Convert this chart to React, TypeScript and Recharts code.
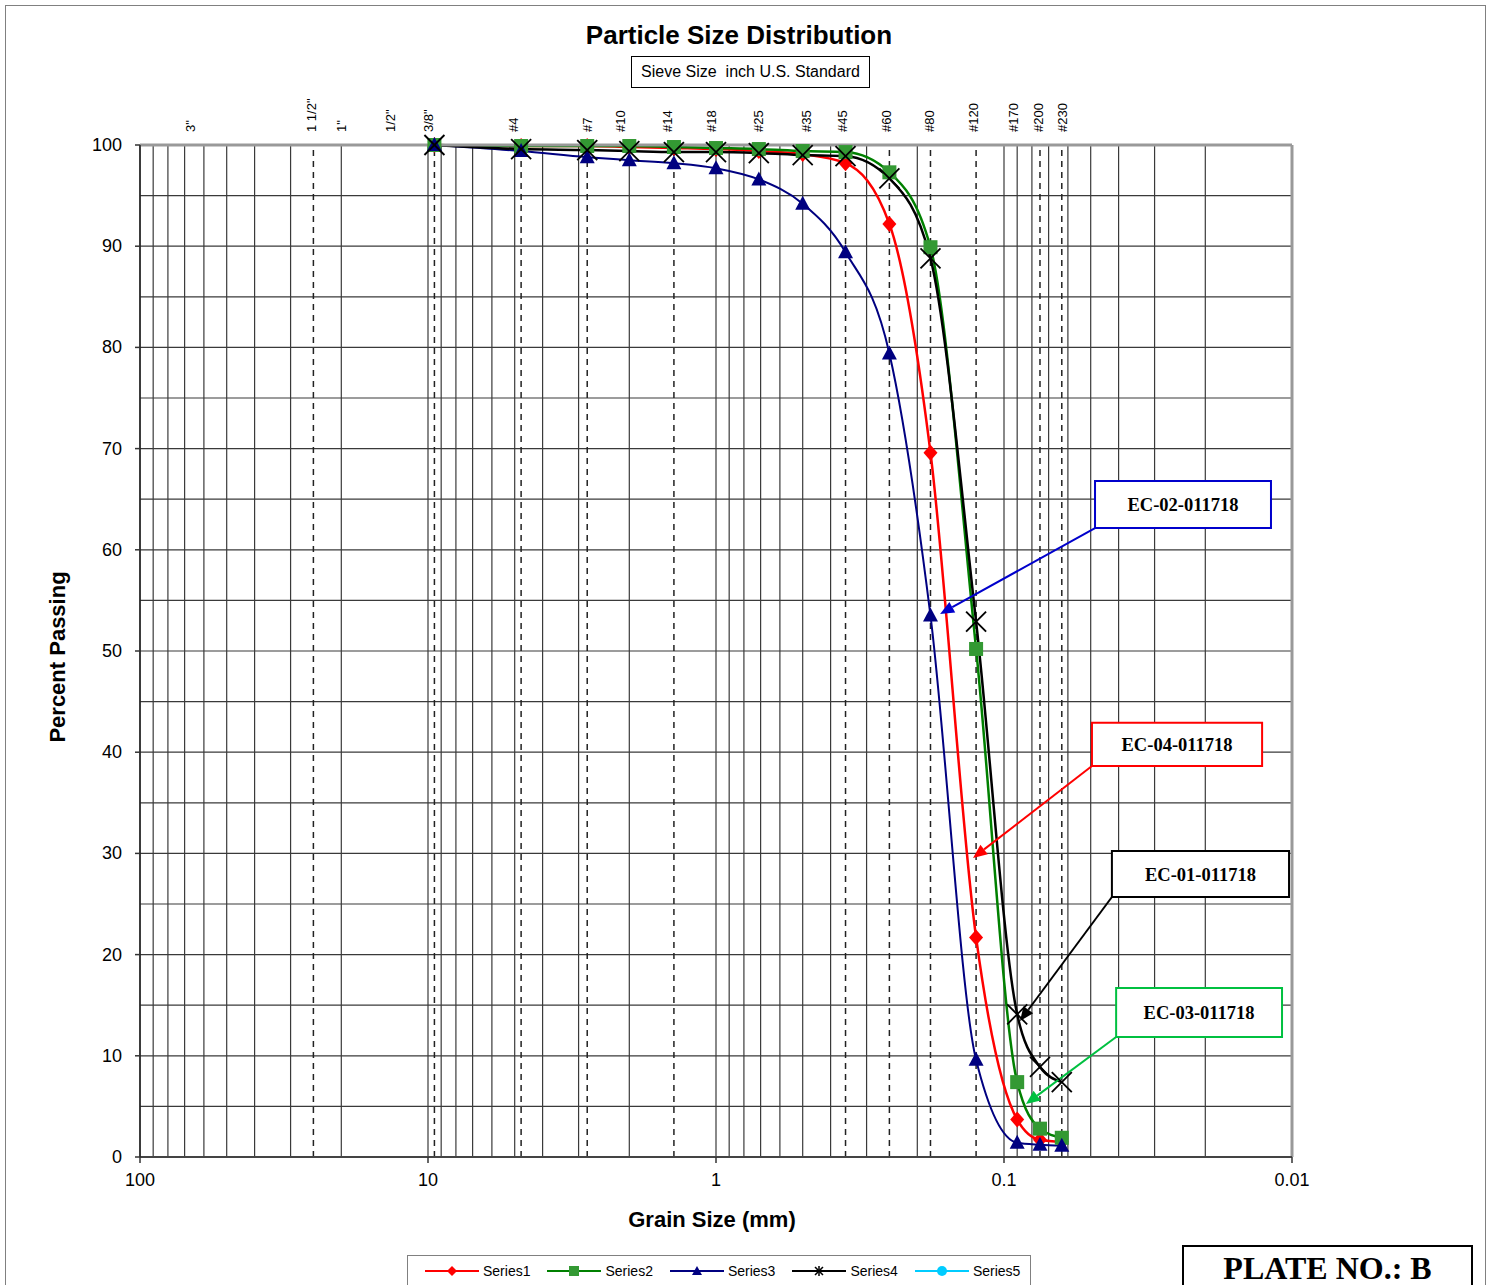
import React from "react";
import {
  LineChart,
  Line,
  XAxis,
  YAxis,
  CartesianGrid,
  ReferenceLine,
  ReferenceArea,
} from "recharts";

// sieve openings (mm) where every sample was measured
const sieveSizes = [9.5, 4.75, 2.8, 2.0, 1.4, 1.0, 0.71, 0.5, 0.355, 0.25, 0.18, 0.125, 0.09, 0.075, 0.063];

// percent passing
const series1 = [100, 99.9, 99.9, 99.8, 99.7, 99.6, 99.4, 99.1, 98.2, 92.2, 69.6, 21.7, 3.7, 1.7, 1.5];
const series2 = [100, 99.9, 99.9, 99.9, 99.8, 99.7, 99.6, 99.4, 99.3, 97.3, 89.9, 50.2, 7.4, 2.8, 1.9];
const series3 = [100, 99.4, 98.8, 98.5, 98.2, 97.7, 96.6, 94.2, 89.4, 79.4, 53.5, 9.6, 1.4, 1.2, 1.1];
const series4 = [100, 99.6, 99.5, 99.4, 99.3, 99.3, 99.2, 99.0, 98.9, 96.7, 88.8, 52.9, 14.1, 8.9, 7.4];

const decades = [100, 10, 1, 0.1, 0.01];
const yTicks = [0, 5, 10, 15, 20, 25, 30, 35, 40, 45, 50, 55, 60, 65, 70, 75, 80, 85, 90, 95, 100];
const yLabels = [0, 10, 20, 30, 40, 50, 60, 70, 80, 90, 100];

// top labels and where they sit on the size axis
const sieveLabels = [
  { label: '3"', at: 67 },
  { label: '1 1/2"', at: 25.3 },
  { label: '1"', at: 20 },
  { label: '1/2"', at: 13.5 },
  { label: '3/8"', at: 10 },
  { label: "#4", at: 5.03 },
  { label: "#7", at: 2.8 },
  { label: "#10", at: 2.14 },
  { label: "#14", at: 1.47 },
  { label: "#18", at: 1.04 },
  { label: "#25", at: 0.715 },
  { label: "#35", at: 0.487 },
  { label: "#45", at: 0.365 },
  { label: "#60", at: 0.255 },
  { label: "#80", at: 0.182 },
  { label: "#120", at: 0.128 },
  { label: "#170", at: 0.093 },
  { label: "#200", at: 0.0762 },
  { label: "#230", at: 0.0629 },
];
const sieveLines = [25, 9.5, 4.75, 2.8, 1.4, 0.355, 0.25, 0.18, 0.125, 0.075, 0.063];

const callouts = [
  { text: "EC-02-011718", color: "#0000CC", x1: 0.0483, x2: 0.01183, y1: 66.8, y2: 62.15, from: [0.0483, 62.15], to: [0.1667, 53.66] },
  { text: "EC-04-011718", color: "#FF0000", x1: 0.0495, x2: 0.0127, y1: 42.9, y2: 38.64, from: [0.0495, 38.64], to: [0.1281, 29.55] },
  { text: "EC-01-011718", color: "#000000", x1: 0.0422, x2: 0.01024, y1: 30.24, y2: 25.69, from: [0.0422, 25.69], to: [0.088, 13.44] },
  { text: "EC-03-011718", color: "#00C040", x1: 0.0408, x2: 0.01083, y1: 16.7, y2: 11.86, from: [0.0408, 11.86], to: [0.0839, 5.24] },
];

const rows = sieveSizes.map((size, i) => ({
  size,
  s1: series1[i],
  s2: series2[i],
  s3: series3[i],
  s4: series4[i],
}));

// every log-cycle subdivision gets a grid line
const gridX = [0.01, 0.1, 1, 10]
  .flatMap((d) => [1, 2, 3, 4, 5, 6, 7, 8, 9].map((k) => Number((d * k).toPrecision(6))))
  .concat([100]);

const SANS = "'Liberation Sans', Arial, sans-serif";
const SERIF = "'Liberation Serif', 'Times New Roman', serif";
const PLOT_LEFT = 140;
const PLOT_TOP = 145;
const PLOT_BOTTOM = 1157;

const Diamond = (p: any) =>
  p.cx == null || p.value == null ? <g key={p.index} /> : (
    <polygon key={p.index} points={`${p.cx},${p.cy - 8} ${p.cx + 7},${p.cy} ${p.cx},${p.cy + 8} ${p.cx - 7},${p.cy}`} fill="#FF0000" />
  );
const Square = (p: any) =>
  p.cx == null || p.value == null ? <g key={p.index} /> : (
    <rect key={p.index} x={p.cx - 7} y={p.cy - 7} width={14} height={14} fill="#339933" />
  );
const Triangle = (p: any) =>
  p.cx == null || p.value == null ? <g key={p.index} /> : (
    <polygon key={p.index} points={`${p.cx},${p.cy - 8} ${p.cx + 7.5},${p.cy + 6} ${p.cx - 7.5},${p.cy + 6}`} fill="#000080" />
  );
const Cross = (p: any) =>
  p.cx == null || p.value == null ? <g key={p.index} /> : (
    <g key={p.index} stroke="#000" strokeWidth={1.8}>
      <line x1={p.cx - 10} y1={p.cy - 10} x2={p.cx + 10} y2={p.cy + 10} />
      <line x1={p.cx - 10} y1={p.cy + 10} x2={p.cx + 10} y2={p.cy - 10} />
    </g>
  );

const BottomTick = (p: any) => {
  const v = p.payload?.value;
  if (!decades.includes(v)) return <g />;
  return (
    <g>
      <line x1={p.x} x2={p.x} y1={PLOT_BOTTOM} y2={PLOT_BOTTOM + 6} stroke="#333" strokeWidth={1.5} />
      <text x={p.x} y={PLOT_BOTTOM + 29} textAnchor="middle" fontSize={18} fontFamily={SANS} fill="#000">
        {String(v)}
      </text>
    </g>
  );
};

const LeftTick = (p: any) => {
  const v = p.payload?.value;
  if (!yLabels.includes(v)) return <g />;
  return (
    <g>
      <line x1={PLOT_LEFT - 5} x2={PLOT_LEFT} y1={p.y} y2={p.y} stroke="#333" strokeWidth={1.5} />
      <text x={PLOT_LEFT - 18} y={p.y + 6} textAnchor="end" fontSize={18} fontFamily={SANS} fill="#000">
        {v}
      </text>
    </g>
  );
};

const TopTick = (p: any) => {
  const item = sieveLabels.find((s) => s.at === p.payload?.value);
  if (!item) return <g />;
  const y = PLOT_TOP - 13;
  return (
    <text
      x={p.x}
      y={y}
      dy="0.35em"
      transform={`rotate(-90 ${p.x} ${y})`}
      textAnchor="start"
      fontSize={13}
      fontFamily={SANS}
      fill="#000"
    >
      {item.label}
    </text>
  );
};

const arrow = (color: string) => (p: any) => {
  const { x1, y1, x2, y2 } = p;
  if ([x1, y1, x2, y2].some((v) => v == null || isNaN(v))) return <g />;
  const ang = Math.atan2(y2 - y1, x2 - x1);
  const len = 14;
  const w = 6;
  const bx = x2 - len * Math.cos(ang);
  const by = y2 - len * Math.sin(ang);
  const px = -Math.sin(ang) * w;
  const py = Math.cos(ang) * w;
  return (
    <g>
      <line x1={x1} y1={y1} x2={bx} y2={by} stroke={color} strokeWidth={2} />
      <polygon points={`${x2},${y2} ${bx + px},${by + py} ${bx - px},${by - py}`} fill={color} />
    </g>
  );
};

const legendItems = [
  { name: "Series1", color: "#FF0000", marker: "diamond" },
  { name: "Series2", color: "#008000", marker: "square" },
  { name: "Series3", color: "#000080", marker: "triangle" },
  { name: "Series4", color: "#000000", marker: "star" },
  { name: "Series5", color: "#00CCFF", marker: "circle" },
];

const LegendIcon = ({ color, marker }: { color: string; marker: string }) => (
  <svg width={54} height={14} style={{ marginRight: 4 }}>
    <line x1={0} y1={7} x2={54} y2={7} stroke={color} strokeWidth={2} />
    {marker === "diamond" && <polygon points="27,2 32,7 27,12 22,7" fill={color} />}
    {marker === "square" && <rect x={22} y={2} width={10} height={10} fill="#339933" />}
    {marker === "triangle" && <polygon points="27,2 32,11 22,11" fill={color} />}
    {marker === "star" && (
      <g stroke={color} strokeWidth={1.5}>
        <line x1={23} y1={3} x2={31} y2={11} />
        <line x1={23} y1={11} x2={31} y2={3} />
        <line x1={27} y1={2} x2={27} y2={12} />
      </g>
    )}
    {marker === "circle" && <circle cx={27} cy={7} r={5} fill={color} />}
  </svg>
);

export default function App() {
  return (
    <div style={{ position: "absolute", left: 0, top: 0, width: 1489, height: 1285, background: "#fff", overflow: "hidden" }}>
      <div style={{ position: "absolute", left: 5, top: 5, width: 1479, height: 1300, border: "1.5px solid #808080" }} />
      <div style={{ position: "absolute", left: 0, width: 1478, top: 20, textAlign: "center", fontFamily: SANS, fontWeight: "bold", fontSize: 26 }}>
        Particle Size Distribution
      </div>
      <div
        style={{
          position: "absolute",
          left: 631,
          top: 56,
          width: 237,
          height: 30,
          border: "1.5px solid #000",
          fontFamily: SANS,
          fontSize: 16,
          lineHeight: "30px",
          textAlign: "center",
          whiteSpace: "pre",
        }}
      >
        {"Sieve Size  inch U.S. Standard"}
      </div>

      <div style={{ position: "absolute", left: 0, top: 0 }}>
        <LineChart width={1489} height={1285} data={rows} margin={{ top: 100, right: 197, bottom: 88, left: 80 }}>
          <CartesianGrid stroke="#3a3a3a" strokeWidth={1.2} />
          <XAxis
            dataKey="size"
            type="number"
            scale="log"
            domain={[0.01, 100]}
            allowDataOverflow
            reversed
            ticks={gridX}
            interval={0}
            tick={<BottomTick />}
            tickLine={false}
            axisLine={{ stroke: "#444", strokeWidth: 2 }}
            height={40}
          />
          <XAxis
            xAxisId="top"
            orientation="top"
            dataKey="size"
            type="number"
            scale="log"
            domain={[0.01, 100]}
            allowDataOverflow
            reversed
            ticks={sieveLabels.map((s) => s.at)}
            interval={0}
            tick={<TopTick />}
            tickLine={false}
            axisLine={{ stroke: "#999", strokeWidth: 3 }}
            height={45}
          />
          <YAxis
            type="number"
            domain={[0, 100]}
            ticks={yTicks}
            interval={0}
            tick={<LeftTick />}
            tickLine={false}
            axisLine={{ stroke: "#222", strokeWidth: 1.5 }}
            width={60}
          />
          <ReferenceLine x={0.01} stroke="#999" strokeWidth={3} />
          {sieveLines.map((v) => (
            <ReferenceLine key={v} x={v} stroke="#222" strokeWidth={1.5} strokeDasharray="6 5" />
          ))}

          <Line dataKey="s1" type="monotone" stroke="#FF0000" strokeWidth={2.5} dot={Diamond} activeDot={false} isAnimationActive={false} />
          <Line dataKey="s2" type="monotone" stroke="#008000" strokeWidth={2.5} dot={Square} activeDot={false} isAnimationActive={false} />
          <Line dataKey="s3" type="monotone" stroke="#000080" strokeWidth={2} dot={Triangle} activeDot={false} isAnimationActive={false} />
          <Line dataKey="s4" type="monotone" stroke="#000000" strokeWidth={2.5} dot={Cross} activeDot={false} isAnimationActive={false} />

          {callouts.map((c) => (
            <ReferenceArea
              key={c.text}
              x1={c.x1}
              x2={c.x2}
              y1={c.y1}
              y2={c.y2}
              fill="#fff"
              fillOpacity={1}
              stroke={c.color}
              strokeWidth={2}
              label={{ value: c.text, position: "center", fill: "#000", fontSize: 18.5, fontWeight: "bold", fontFamily: SERIF }}
            />
          ))}
          {callouts.map((c) => (
            <ReferenceLine
              key={c.text + "-arrow"}
              segment={[
                { x: c.from[0], y: c.from[1] },
                { x: c.to[0], y: c.to[1] },
              ]}
              stroke={c.color}
              strokeWidth={2}
              shape={arrow(c.color)}
            />
          ))}
        </LineChart>
      </div>

      <div
        style={{
          position: "absolute",
          left: 58,
          top: 657,
          transform: "translate(-50%, -50%) rotate(-90deg)",
          fontFamily: SANS,
          fontWeight: "bold",
          fontSize: 22,
          whiteSpace: "nowrap",
        }}
      >
        Percent Passing
      </div>
      <div style={{ position: "absolute", left: 0, width: 1424, top: 1207, textAlign: "center", fontFamily: SANS, fontWeight: "bold", fontSize: 22 }}>
        Grain Size (mm)
      </div>

      <div
        style={{
          position: "absolute",
          left: 407,
          top: 1255,
          width: 624,
          height: 40,
          border: "1.5px solid #808080",
          display: "flex",
          alignItems: "flex-start",
          paddingTop: 7,
          boxSizing: "border-box",
          fontFamily: SANS,
          fontSize: 14,
        }}
      >
        {legendItems.map((it) => (
          <div key={it.name} style={{ display: "flex", alignItems: "center", marginLeft: 17 }}>
            <LegendIcon color={it.color} marker={it.marker} />
            <span>{it.name}</span>
          </div>
        ))}
      </div>

      <div
        style={{
          position: "absolute",
          left: 1182,
          top: 1245,
          width: 291,
          height: 60,
          border: "2px solid #000",
          fontFamily: SERIF,
          fontWeight: "bold",
          fontSize: 32,
          textAlign: "center",
          paddingTop: 3,
          boxSizing: "border-box",
        }}
      >
        PLATE NO.: B
      </div>
    </div>
  );
}
